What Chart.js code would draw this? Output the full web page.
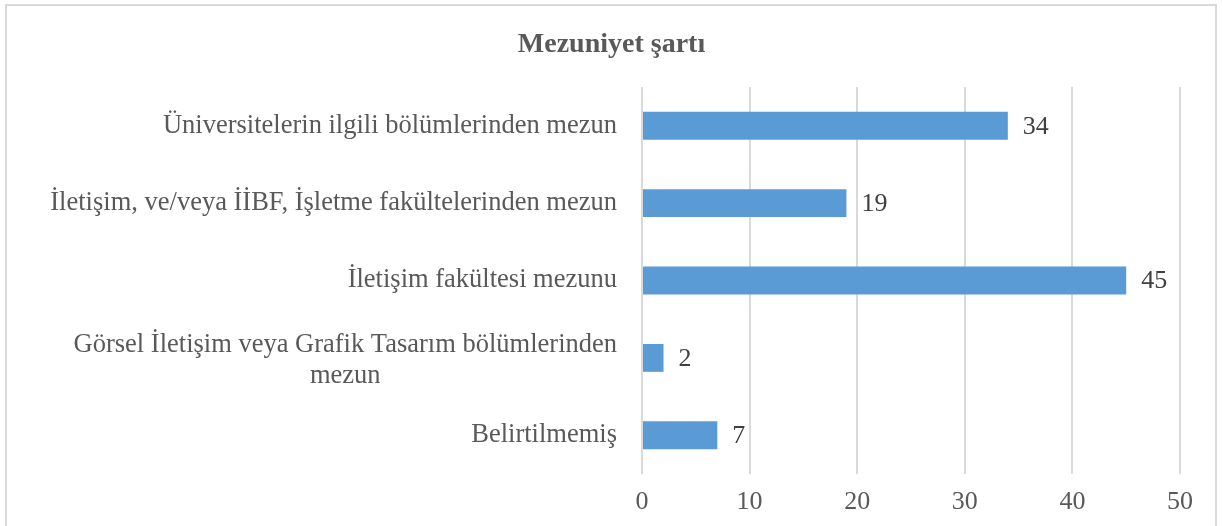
<!DOCTYPE html>
<html>
<head>
<meta charset="utf-8">
<script src="https://cdn.jsdelivr.net/npm/chart.js@4.4.0/dist/chart.umd.min.js"></script>
<style>
    html, body { margin: 0; padding: 0; background: #fff; overflow: hidden; }
    #wrap { position: relative; width: 1223px; height: 526px; }
    #frame { position: absolute; left: 5px; top: 4px; width: 1212px; height: 540px; border: 2px solid #d9d9d9; box-sizing: border-box; }
    canvas { position: absolute; left: 0; top: 0; }
</style>
</head>
<body>
<div id="wrap">
    <div id="frame"></div>
    <canvas id="mezuniyet" width="1223" height="526"></canvas>
</div>
<script>
let chart_title = 'Mezuniyet şartı';
let categories = [
    'Üniversitelerin ilgili bölümlerinden mezun',
    'İletişim, ve/veya İİBF, İşletme fakültelerinden mezun',
    'İletişim fakültesi mezunu',
    ['Görsel İletişim veya Grafik Tasarım bölümlerinden', 'mezun'],
    'Belirtilmemiş'
];
let values = [34, 19, 45, 2, 7];
let x_ticks = [0, 10, 20, 30, 40, 50];

const text_font = 'Liberation Serif, Times New Roman, serif';

// title centred on the whole canvas (the built-in one centres on the padded area)
let centered_title = {
    id: 'centered_title',
    afterDraw(chart) {
        let ctx = chart.ctx;
        ctx.save();
        ctx.font = 'bold 28px ' + text_font;
        ctx.fillStyle = '#595959';
        ctx.textAlign = 'center';
        ctx.textBaseline = 'middle';
        ctx.fillText(chart_title, chart.width / 2, 45);
        ctx.restore();
    }
};

// category labels: block right-aligned, lines centered within the block
let category_labels = {
    id: 'category_labels',
    afterDraw(chart) {
        let ctx = chart.ctx;
        let scale = chart.scales.y;
        ctx.save();
        ctx.font = '26.5px ' + text_font;
        ctx.fillStyle = '#595959';
        ctx.textBaseline = 'middle';
        ctx.textAlign = 'center';
        let right = chart.chartArea.left - 25;
        categories.forEach(function (lab, i) {
            let lines = Array.isArray(lab) ? lab : [lab];
            let w = Math.max.apply(null, lines.map(l => ctx.measureText(l).width));
            let y = scale.getPixelForTick(i);
            let lh = 31;
            let top = y - (lines.length - 1) * lh / 2 + (lines.length > 1 ? 3 : 0);
            lines.forEach(function (l, j) {
                ctx.fillText(l, right - w / 2, top + j * lh);
            });
        });
        ctx.restore();
    }
};

let value_labels = {
    id: 'value_labels',
    afterDatasetsDraw(chart) {
        let ctx = chart.ctx;
        let meta = chart.getDatasetMeta(0);
        ctx.save();
        ctx.font = '26px ' + text_font;
        ctx.fillStyle = '#404040';
        ctx.textBaseline = 'middle';
        ctx.textAlign = 'left';
        meta.data.forEach(function (bar, i) {
            ctx.fillText(String(values[i]), bar.x + 15, bar.y + 1);
        });
        ctx.restore();
    }
};

let mezuniyet_param = {
    type: 'bar',
    data: {
        labels: categories,
        datasets: [{
            label: chart_title,
            data: values,
            backgroundColor: '#5b9bd5',
            borderWidth: 0,
            categoryPercentage: 1,
            barPercentage: 0.36,
        }]
    },
    options: {
        indexAxis: 'y',
        responsive: false,
        animation: false,
        layout: { padding: { left: 0, right: 43, top: 87, bottom: 0 } },
        plugins: {
            legend: { display: false },
            tooltip: { enabled: false },
            title: { display: false },
        },
        scales: {
            x: {
                min: 0,
                max: 50,
                afterBuildTicks(axis) {
                    axis.ticks = x_ticks.map(v => ({ value: v }));
                },
                afterFit(axis) { axis.height = 52; },
                grid: { color: '#d9d9d9', lineWidth: 2, drawTicks: false },
                border: { display: false },
                ticks: {
                    color: '#595959',
                    font: { family: text_font, size: 26 },
                    padding: 13,
                },
            },
            y: {
                afterFit(axis) { axis.width = 642; },
                grid: { display: false },
                border: { display: false },
                ticks: { display: false },
            }
        }
    },
    plugins: [centered_title, category_labels, value_labels]
};

let mezuniyet = new Chart(document.getElementById('mezuniyet'), mezuniyet_param);
</script>
</body>
</html>
